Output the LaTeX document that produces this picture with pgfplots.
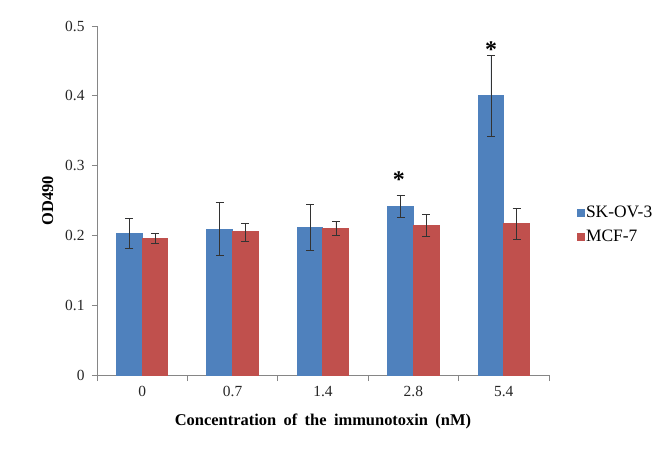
\documentclass[border=0pt]{standalone}
\usepackage{pgfplots}
\pgfplotsset{compat=1.18}
\usepackage{fontspec}
\setmainfont{Liberation Serif}
\definecolor{skblue}{HTML}{4F81BD}
\definecolor{mcfred}{HTML}{C0504D}
\definecolor{axgray}{HTML}{868686}
\newcommand{\legfont}{\fontsize{17.5}{19}\selectfont}
\begin{document}
\begin{tikzpicture}
\begin{axis}[
  at={(0,0)}, anchor=south west,
  scale only axis, width=452bp, height=349bp,
  ybar=0pt, bar width=25.7bp,
  xmin=-0.5, xmax=4.5, ymin=0, ymax=0.5,
  axis x line=bottom, axis y line=left,
  axis line style={axgray, line width=0.9pt, -},
  xtick={0,1,2,3,4},
  xticklabels={0,0.7,1.4,2.8,5.4},
  minor xtick={-0.5,0.5,1.5,2.5,3.5,4.5},
  major x tick style={draw=none},
  minor x tick style={axgray, line width=0.9pt},
  minor tick length=6bp,
  ytick={0,0.1,0.2,0.3,0.4,0.5},
  yticklabels={0,0.1,0.2,0.3,0.4,0.5},
  y tick style={axgray, line width=0.9pt},
  major tick length=5bp,
  tick align=outside,
  tick label style={font=\fontsize{15.5}{17}\selectfont, text=black!85},
  xticklabel style={yshift=-3bp},
  yticklabel style={xshift=-4bp},
  xlabel={\textbf{Concentration\hspace{0.45em}of\hspace{0.45em}the\hspace{0.45em}immunotoxin\hspace{0.45em}(nM)}},
  ylabel={\textbf{OD490}},
  label style={font=\fontsize{16.5}{18}\selectfont},
  xlabel style={yshift=-10bp},
  ylabel style={yshift=5bp},
  legend style={draw=none, fill=none, at={(1.055,0.43)}, anchor=west,
    row sep=7bp, legend cell align=left},
  legend image code/.code={\fill[#1] (0bp,-3.5bp) rectangle (7bp,3.5bp);},
  error bars/y dir=both, error bars/y explicit,
  error bars/error mark=-,
  error bars/error bar style={draw=black!80, line width=0.6pt},
  error bars/error mark options={rotate=90, draw=black!80, line width=0.6pt, mark size=4bp},
  clip=false,
]
\addplot[fill=skblue, draw=skblue, line width=0pt] coordinates {
  (0,0.203) +- (0,0.022)
  (1,0.209) +- (0,0.038)
  (2,0.212) +- (0,0.033)
  (3,0.242) +- (0,0.016)
  (4,0.400) +- (0,0.058)
};
\addplot[fill=mcfred, draw=mcfred, line width=0pt] coordinates {
  (0,0.196) +- (0,0.007)
  (1,0.205) +- (0,0.013)
  (2,0.210) +- (0,0.010)
  (3,0.214) +- (0,0.016)
  (4,0.217) +- (0,0.022)
};
\legend{\legfont SK-OV-3, \legfont MCF-7}
\node[font=\bfseries\fontsize{24}{24}\selectfont, inner sep=0pt] at (axis cs:2.84,0.280) {*};
\node[font=\bfseries\fontsize{24}{24}\selectfont, inner sep=0pt] at (axis cs:3.86,0.466) {*};
\end{axis}
\pgfresetboundingbox
\useasboundingbox (-97bp,-82bp) rectangle (572bp,375bp);
\end{tikzpicture}
\end{document}
